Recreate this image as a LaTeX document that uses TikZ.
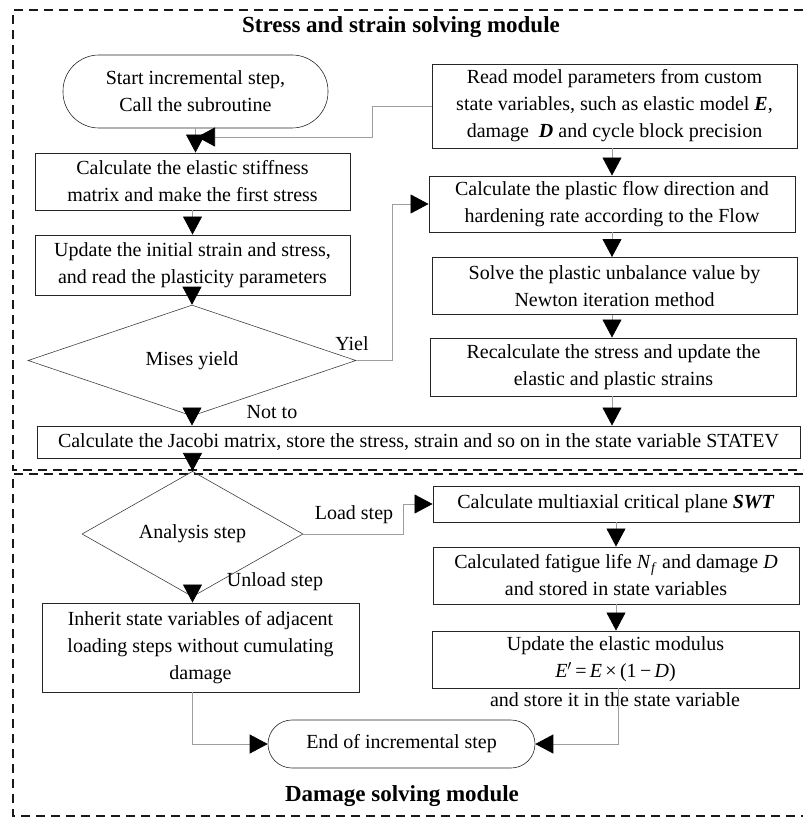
\documentclass[tikz,border=0pt]{standalone}
\usepackage{fontspec}
\setmainfont{Liberation Serif}
\usetikzlibrary{arrows.meta,shapes.geometric}

\tikzset{
  txt/.style={font=\fontsize{20}{27}\selectfont},
  proc/.style={txt, draw=black!85, line width=0.9pt, align=center, inner sep=2pt},
  term/.style={txt, draw=black!85, line width=0.6pt, align=center, inner sep=2pt},
  decide/.style={txt, diamond, draw=black!75, line width=0.6pt, align=center, inner sep=0pt},
  link/.style={draw=black!38, line width=0.7pt},
  arrowlink/.style={link, -{Triangle[length=18pt,width=19pt,color=black]}},
  lbl/.style={txt, inner sep=0pt},
  modtitle/.style={font=\bfseries\fontsize{23}{27}\selectfont, inner sep=0pt},
  frame/.style={draw=black!90, line width=1.6pt, dash pattern=on 9pt off 6pt}
}

\begin{document}
\begin{tikzpicture}[x=1pt, y=-1pt]
\useasboundingbox (0,0) rectangle (803,821);

% module frames (open on the right)
\draw[frame] (803,10) -- (13,10) -- (13,470) -- (803,470);
\draw[frame] (803,474) -- (13,474) -- (13,816) -- (803,816);

\node[modtitle] (t1) at (401,27) {Stress and strain solving module};
\node[modtitle] (t2) at (402,796) {Damage solving module};

% stress and strain solving module
\node[term, rounded corners=36pt, minimum width=265pt, minimum height=73pt] (start) at (195.5,91.5)
  {Start incremental step,\\Call the subroutine};
\node[proc, minimum width=315pt, minimum height=57pt] (calc) at (192.5,181.5)
  {Calculate the elastic stiffness\\matrix and make the first stress};
\node[proc, minimum width=315pt, minimum height=60pt] (upd) at (192.5,265)
  {Update the initial strain and stress,\\and read the plasticity parameters};
\node[decide, minimum width=328pt, minimum height=81pt] (mises) at (192,360.5) {Mises yield};

\node[proc, minimum width=365pt, minimum height=84pt] (read) at (614.5,106)
  {Read model parameters from custom\\state variables, such as elastic model \textbf{\textit{E}},\\damage \ \textbf{\textit{D}} and cycle block precision};
\node[proc, minimum width=366pt, minimum height=56pt] (plast) at (612,204)
  {Calculate the plastic flow direction and\\hardening rate according to the Flow};
\node[proc, minimum width=365pt, minimum height=57pt] (solve) at (614.5,286)
  {Solve the plastic unbalance value by\\Newton iteration method};
\node[proc, minimum width=366pt, minimum height=58pt] (recalc) at (613.5,367)
  {Recalculate the stress and update the\\elastic and plastic strains};

\node[proc, minimum width=763pt, minimum height=32pt] (jacobi) at (418.5,442)
  {Calculate the Jacobi matrix, store the stress, strain and so on in the state variable STATEV};

% damage solving module
\node[decide, minimum width=221pt, minimum height=86pt] (anal) at (192.5,534) {Analysis step};
\node[proc, minimum width=317pt, minimum height=89pt] (inh) at (200.5,647.5)
  {Inherit state variables of adjacent\\loading steps without cumulating\\damage};

\node[proc, minimum width=366pt, minimum height=36pt] (swt) at (616,504)
  {Calculate multiaxial critical plane \textbf{\textit{SWT}}};
\node[proc, minimum width=366pt, minimum height=57pt] (fat) at (616,575.5)
  {Calculated fatigue life \textit{N}\textsubscript{\textit{f}} and damage \textit{D}\\and stored in state variables};
\node[proc, minimum width=367pt, minimum height=57pt] (mod) at (615.5,659.5)
  {Update the elastic modulus\\\textit{E}$'$\,=\,\textit{E}\,×\,(1\,−\,\textit{D})};
\node[lbl] (store) at (615,700) {and store it in the state variable};

\node[term, rounded corners=24pt, minimum width=267pt, minimum height=48pt] (endn) at (401.5,744)
  {End of incremental step};

% branch labels
\node[lbl] (yl) at (352,344) {Yiel};
\node[lbl] (nt) at (272,412) {Not to};
\node[lbl] (ls) at (354,515) {Load step};
\node[lbl] (us) at (275,582) {Unload step};

% connectors
\coordinate (jn) at (197,137);
\draw[arrowlink] (start.south) -- (start.south |- calc.north);
\draw[arrowlink] (read.west) -- ++(-59,0) |- (jn);
\draw[arrowlink] (calc.south) -- (upd.north);
\draw[arrowlink] (upd.south -| mises.north) -- (mises.north);
\draw[arrowlink] (mises.east) -- ++(36,0) |- (plast.west);
\draw[arrowlink] (mises.south) -- (mises.south |- jacobi.north);

\draw[arrowlink] (read.south -| plast.north) -- (plast.north);
\draw[arrowlink] (plast.south) -- (plast.south |- solve.north);
\draw[arrowlink] (solve.south -| plast.south) -- (plast.south |- recalc.north);
\draw[arrowlink] (recalc.south -| plast.south) -- (plast.south |- jacobi.north);

\draw[arrowlink] (jacobi.south -| anal.north) -- (anal.north);
\draw[arrowlink] (anal.east) -- ++(100,0) |- (swt.west);
\draw[arrowlink] (anal.south) -- (anal.south |- inh.north);
\draw[arrowlink] (swt.south) -- (swt.south |- fat.north);
\draw[arrowlink] (fat.south) -- (fat.south |- mod.north);

\draw[arrowlink] (anal.south |- inh.south) |- (endn.west);
\draw[arrowlink] ([xshift=2.5pt]mod.south) |- (endn.east);
\end{tikzpicture}
\end{document}
